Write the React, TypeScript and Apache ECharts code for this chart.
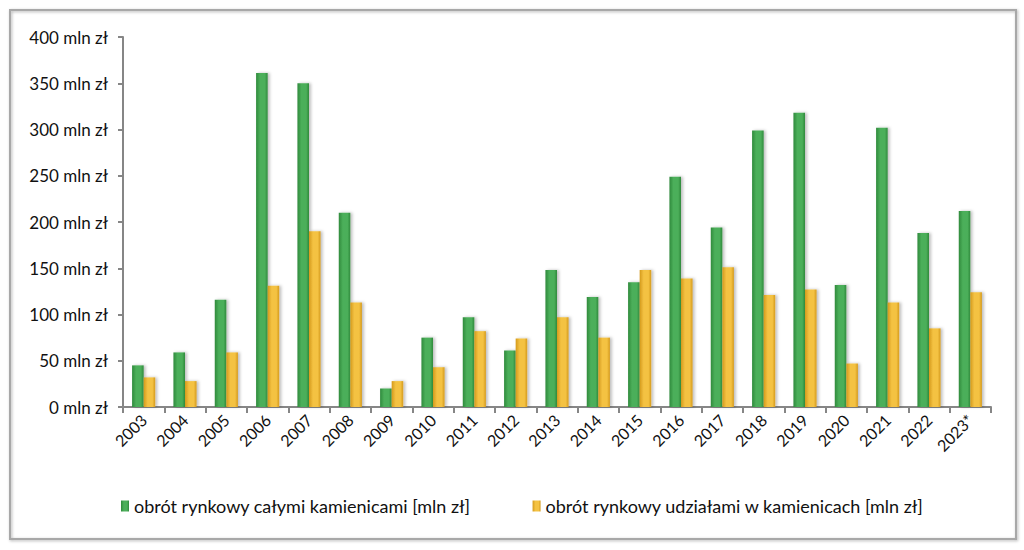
import React, { useEffect, useRef } from "react";
import * as echarts from "echarts";

const categories = ["2003","2004","2005","2006","2007","2008","2009","2010","2011","2012","2013","2014","2015","2016","2017","2018","2019","2020","2021","2022","2023*"];
const wholeBuildings = [45, 59, 116, 361, 350, 210, 20, 75, 97, 61, 148, 119, 135, 249, 194, 299, 318, 132, 302, 188, 212];
const shares = [32, 28, 59, 131, 190, 113, 28, 43, 82, 74, 97, 75, 148, 139, 151, 121, 127, 47, 113, 85, 124];
const seriesNames = ["obrót rynkowy całymi kamienicami [mln zł]", "obrót rynkowy udziałami w kamienicach [mln zł]"];

const FONT = "Lato, 'Open Sans', sans-serif";

function grad(dark: string, light: string) {
  return new echarts.graphic.LinearGradient(0, 0, 1, 0, [
    { offset: 0, color: dark },
    { offset: 0.35, color: light },
    { offset: 0.75, color: light },
    { offset: 1, color: dark },
  ]);
}

export default function App() {
  const ref = useRef<HTMLDivElement>(null);
  useEffect(() => {
    if (!ref.current) return;
    const chart = echarts.init(ref.current, null, { renderer: "svg" });
    chart.setOption({
      animation: false,
      backgroundColor: "#ffffff",
      graphic: [
        {
          type: "rect",
          shape: { x: 10, y: 10, width: 1006, height: 529 },
          style: { fill: "none", stroke: "#a8a8a8", lineWidth: 2, shadowBlur: 3, shadowOffsetX: 1, shadowOffsetY: 1, shadowColor: "rgba(0,0,0,0.3)" },
          z: -1,
        },
      ],
      grid: { left: 123, right: 33, top: 37, bottom: 143, containLabel: false },
      legend: {
        bottom: 30,
        left: 116,
        itemGap: 62,
        itemWidth: 8,
        itemHeight: 11,
        icon: "rect",
        textStyle: { fontFamily: FONT, fontSize: 18, color: "#111" },
        data: seriesNames,
      },
      xAxis: {
        type: "category",
        data: categories,
        axisLine: { lineStyle: { color: "#868686", width: 2 } },
        axisTick: { show: true, length: 6, lineStyle: { color: "#868686", width: 2 }, alignWithLabel: false },
        axisLabel: {
          rotate: 45,
          interval: 0,
          margin: 10,
          fontFamily: FONT,
          fontSize: 16,
          color: "#111",
        },
      },
      yAxis: {
        type: "value",
        min: 0,
        max: 400,
        interval: 50,
        splitLine: { show: false },
        axisLine: { show: true, lineStyle: { color: "#868686", width: 2 } },
        axisTick: { show: true, length: 5, lineStyle: { color: "#868686", width: 2 } },
        axisLabel: {
          margin: 15,
          fontFamily: FONT,
          fontSize: 17,
          color: "#111",
          formatter: (v: number) => `${v} mln zł`,
        },
      },
      series: [
        {
          name: seriesNames[0],
          type: "bar",
          data: wholeBuildings,
          barGap: "0%",
          barCategoryGap: "44%",
          itemStyle: {
            color: grad("#2f8a3c", "#4caf5a"),
            shadowBlur: 3,
            shadowOffsetX: 2,
            shadowColor: "rgba(0,0,0,0.25)",
          },
        },
        {
          name: seriesNames[1],
          type: "bar",
          data: shares,
          barGap: "0%",
          barCategoryGap: "44%",
          itemStyle: {
            color: grad("#d49a1c", "#f4c242"),
            shadowBlur: 3,
            shadowOffsetX: 2,
            shadowColor: "rgba(0,0,0,0.25)",
          },
        },
      ],
    });
    return () => chart.dispose();
  }, []);
  return <div ref={ref} style={{ position: "absolute", left: 0, top: 0, width: 1024, height: 550 }} />;
}
